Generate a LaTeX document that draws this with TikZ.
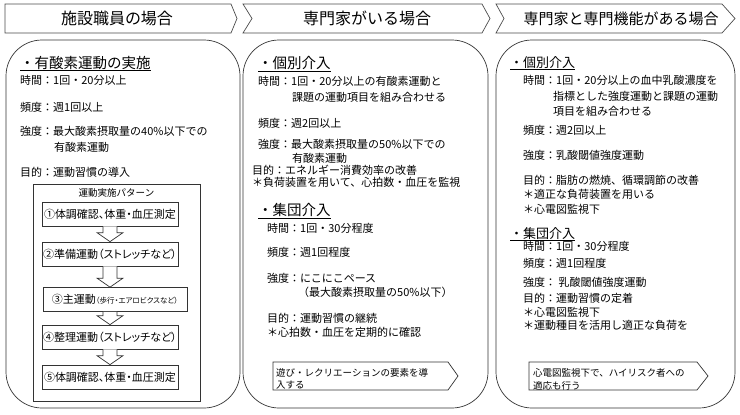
\documentclass[tikz,border=0pt]{standalone}
\usepackage{fontspec}
\setmainfont{Noto Sans CJK JP}
\newfontfamily\pfont{Noto Sans CJK JP}[RawFeature=+palt]
\usetikzlibrary{calc}

\begin{document}
\begin{tikzpicture}[x=1pt, y=-1pt,
		frame/.style={draw=black!80, line width=0.7pt},
		panel/.style={frame, rounded corners=36pt},
		headarrow/.style={draw=black!70, line width=0.7pt, fill=white},
		title/.style={inner sep=0pt, text=black, font=\fontsize{16}{18}\selectfont},
		heading/.style={anchor=base west, inner sep=0pt, text=black, font=\fontsize{14.5}{16}\selectfont},
		body/.style={anchor=base west, inner sep=0pt, text=black, font=\fontsize{11}{13}\selectfont},
		stepbox/.style={frame, fill=white, minimum width=136pt, minimum height=24pt, inner sep=0pt, text=black, font=\pfont\fontsize{11}{13}\selectfont},
		flowarrow/.style={frame, fill=white, line join=miter},
		note/.style={anchor=base west, inner sep=0pt, text=black, font=\fontsize{9.5}{12}\selectfont}
		]
		\useasboundingbox (0,0) rectangle (740,415);
		
		% Header arrows
		\draw[headarrow] (5,4) -- (231,4) -- (237,18.5) -- (231,33) -- (5,33) -- cycle;
		\draw[headarrow] (243,4) -- (482,4) -- (490,18.5) -- (482,33) -- (243,33) -- (252,18.5) -- cycle;
		\draw[headarrow] (496,4) -- (722,4) -- (735,18.5) -- (722,33) -- (496,33) -- (504,18.5) -- cycle;
		\node[title] (staff) at (117,18.5) {施設職員の場合};
		\node[title] (expert) at (367,18.5) {専門家がいる場合};
		\node[title, font=\fontsize{15}{17}\selectfont] (facility) at (621,18.5) {専門家と専門機能がある場合};
		
		% Panels
		\draw[panel] (6,40) rectangle (240,408);
		\draw[panel] (243,40) rectangle (488,408);
		\draw[panel] (496,40) rectangle (735,408);
		
		% Staff: aerobic exercise
		\node[heading] (aerobic) at (20,68) {\underline{・有酸素運動の実施}};
		\node[body] (time1) at (20,84.5) {時間：1回・20分以上};
		\node[body] (freq1) at (20,111) {頻度：週1回以上};
		\node[body] (int1) at (20,135) {強度：最大酸素摂取量の40\%以下での};
		\node[body] (int1b) at (54,151) {有酸素運動};
		\node[body] (aim1) at (20,176) {目的：運動習慣の導入};
		
		% Staff: exercise pattern
		\draw[frame] (33,184) rectangle (200,401);
		\node[inner sep=0pt, text=black, font=\fontsize{9.5}{11}\selectfont] (pattern) at (116.5,193) {運動実施パターン};
		\node[stepbox] (s1) at (110,214) {①体調確認、体重・血圧測定};
		\node[stepbox] (s2) at (110,254) {②準備運動（ストレッチなど）};
		\node[stepbox, minimum width=144pt] (s3) at (115,299.5) {③主運動{\fontsize{7.5}{9}\selectfont（歩行・エアロビクスなど）}};
		\node[stepbox] (s4) at (110,337) {④整理運動（ストレッチなど）};
		\node[stepbox] (s5) at (110,377) {⑤体調確認、体重・血圧測定};
		\foreach \a/\b in {s1/s2, s2/s3, s3/s4, s4/s5}
			\draw[flowarrow] ($(s1.south |- \a.south)+(-7,0)$) -- ($(s1.south |- \b.north)+(-7,-9)$)
				-- ($(s1.south |- \b.north)+(-13,-9)$) -- (s1.south |- \b.north)
				-- ($(s1.south |- \b.north)+(13,-9)$) -- ($(s1.south |- \b.north)+(7,-9)$)
				-- ($(s1.south |- \a.south)+(7,0)$);
		
		% Expert: individual
		\node[heading] (indiv2) at (258,68.5) {\underline{・個別介入}};
		\node[body] (time2) at (258,85) {時間：1回・20分以上の有酸素運動と};
		\node[body] (time2b) at (292,101) {課題の運動項目を組み合わせる};
		\node[body] (freq2) at (258,127) {頻度：週2回以上};
		\node[body] (int2) at (258,148) {強度：最大酸素摂取量の50\%以下での};
		\node[body] (int2b) at (292,162) {有酸素運動};
		\node[body] (aim2) at (252,174) {目的：エネルギー消費効率の改善};
		\node[body] (load2) at (252,186) {＊負荷装置を用いて、心拍数・血圧を監視};
		
		% Expert: group
		\node[heading] (group2) at (258,215.5) {\underline{・集団介入}};
		\node[body] (time2g) at (267,232) {時間：1回・30分程度};
		\node[body] (freq2g) at (267,256) {頻度：週1回程度};
		\node[body] (int2g) at (267,282) {強度：にこにこペース};
		\node[body] (int2gb) at (298,296) {（最大酸素摂取量の50\%以下）};
		\node[body] (aim2g) at (267,322) {目的：運動習慣の継続};
		\node[body] (check2g) at (267,336) {＊心拍数・血圧を定期的に確認};
		\draw[frame, fill=white] (273,362) -- (448,362) -- (458,376) -- (448,390) -- (273,390) -- cycle;
		\node[note] (play) at (276,376.5) {遊び・レクリエーションの要素を導};
		\node[note] (playb) at (276,388.5) {入する};
		
		% Expert and facility: individual
		\node[heading, font=\fontsize{13}{15}\selectfont] (indiv3) at (510,67) {\underline{・個別介入}};
		\node[body] (time3) at (523,84) {時間：1回・20分以上の血中乳酸濃度を};
		\node[body] (time3b) at (553,100) {指標とした強度運動と課題の運動};
		\node[body] (time3c) at (553,115) {項目を組み合わせる};
		\node[body] (freq3) at (523,134) {頻度：週2回以上};
		\node[body] (int3) at (523,159) {強度：乳酸閾値強度運動};
		\node[body] (aim3) at (523,184) {目的：脂肪の燃焼、循環調節の改善};
		\node[body] (load3) at (523,198) {＊適正な負荷装置を用いる};
		\node[body] (ecg3) at (523,213) {＊心電図監視下};
		
		% Expert and facility: group
		\node[heading, font=\fontsize{13}{15}\selectfont] (group3) at (510,238) {\underline{・集団介入}};
		\node[body] (time3g) at (523,250) {時間：1回・30分程度};
		\node[body] (freq3g) at (523,267) {頻度：週1回程度};
		\node[body] (int3g) at (523,286) {強度： 乳酸閾値強度運動};
		\node[body] (aim3g) at (523,302) {目的：運動習慣の定着};
		\node[body] (ecg3g) at (523,316) {＊心電図監視下};
		\node[body] (kind3g) at (523,329) {＊運動種目を活用し適正な負荷を};
		\draw[frame, fill=white] (529,362) -- (697,362) -- (708,376) -- (697,390) -- (529,390) -- cycle;
		\node[note] (risk) at (533,376.5) {心電図監視下で、ハイリスク者への};
		\node[note] (riskb) at (533,389) {適応も行う};
		
	\end{tikzpicture}
\end{document}
